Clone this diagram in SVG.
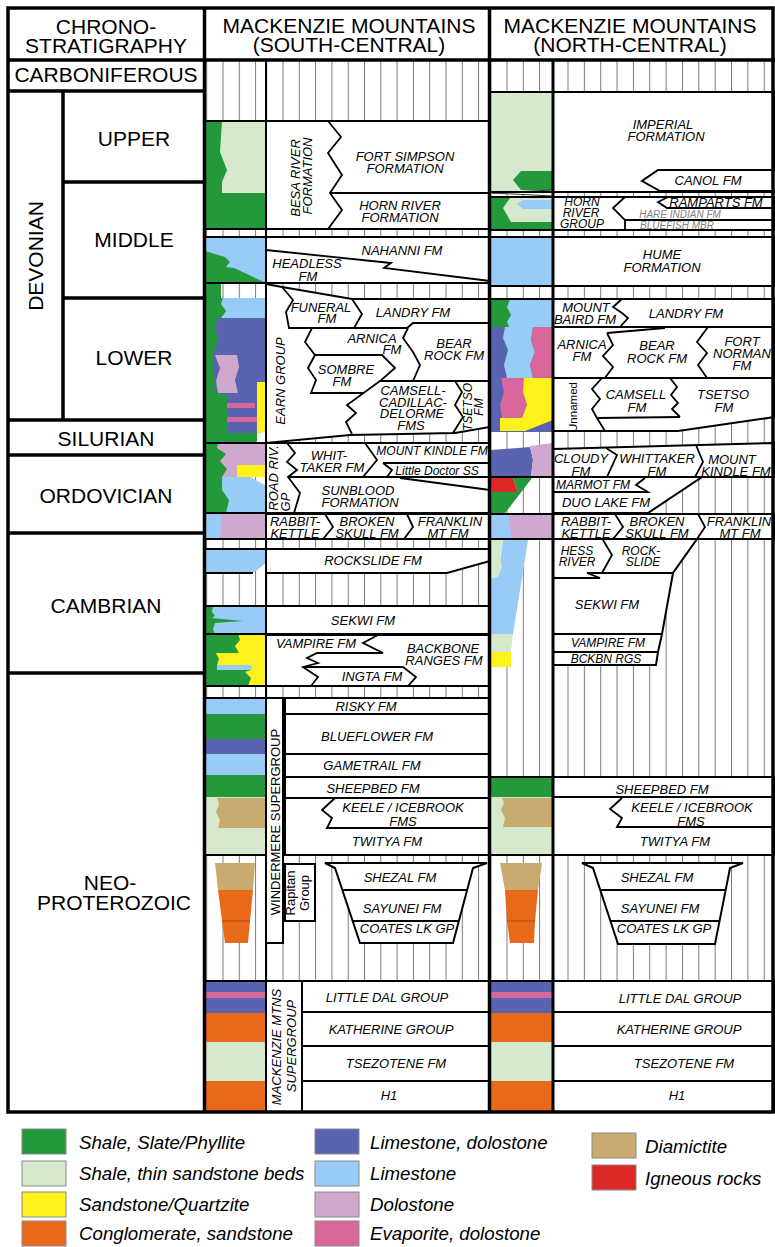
<svg xmlns="http://www.w3.org/2000/svg" width="775" height="1247" viewBox="0 0 775 1247">
<defs>
<style>
.t{font-family:"Liberation Sans",Arial,Helvetica,sans-serif;fill:#000}
.hd{font-size:21px;text-anchor:middle}
.f{font-size:13px;font-style:italic;text-anchor:middle}
.f12{font-size:12px;font-style:italic;text-anchor:middle}
.gr{font-size:10px;font-style:italic;text-anchor:middle;fill:#808080}
.rg{font-size:13px;text-anchor:middle}
.lgd{font-size:18.7px;font-style:italic}
.bx{fill:#fff;stroke:#000;stroke-width:2}
.ln{fill:none;stroke:#000;stroke-width:1.8}
.ll{fill:none;stroke:#000;stroke-width:1.8}
.fr{fill:none;stroke:#000;stroke-width:3.5}
.cG{fill:#23993b}
.cLG{fill:#d6e9cf}
.cY{fill:#fff21a}
.cO{fill:#e9691b}
.cDB{fill:#5a63af}
.cLB{fill:#98ccf6}
.cDo{fill:#cfa9cd}
.cEv{fill:#d9679c}
.cDm{fill:#c9ab70}
.cR{fill:#dd2828}
.sq{stroke:#8a8a8a;stroke-width:1}
</style>
<pattern id="hA" x="222.5" y="0" width="16.3" height="20" patternUnits="userSpaceOnUse"><rect width="16.3" height="20" fill="#fff"/><path d="M0.5 0V20" stroke="#7a7a7a" stroke-width="1"/></pattern>
<pattern id="hB" x="282.5" y="0" width="16.3" height="20" patternUnits="userSpaceOnUse"><rect width="16.3" height="20" fill="#fff"/><path d="M0.5 0V20" stroke="#7a7a7a" stroke-width="1"/></pattern>
<pattern id="hC" x="506.5" y="0" width="16.3" height="20" patternUnits="userSpaceOnUse"><rect width="16.3" height="20" fill="#fff"/><path d="M0.5 0V20" stroke="#7a7a7a" stroke-width="1"/></pattern>
<pattern id="hD" x="567.5" y="0" width="16.35" height="20" patternUnits="userSpaceOnUse"><rect width="16.35" height="20" fill="#fff"/><path d="M0.5 0V20" stroke="#7a7a7a" stroke-width="1"/></pattern>
</defs>
<rect width="775" height="1247" fill="#fff"/>

<g id="hatch-background">
<rect x="205" y="61" width="61" height="1051" fill="url(#hA)"/>
<rect x="266" y="61" width="224" height="1051" fill="url(#hB)"/>
<rect x="491" y="61" width="62" height="1051" fill="url(#hC)"/>
<rect x="553" y="61" width="222" height="1051" fill="url(#hD)"/>
</g>

<g id="lithology-south">
<rect class="cG" x="205" y="121" width="61" height="108"/>
<polygon class="cLG" points="222,121 266,121 266,193 222,193 222,182 227,170 220,152"/>
<rect class="cLB" x="205" y="237" width="61" height="46"/>
<polygon class="cG" points="205,251 225,257 230,262 226,267 234,268 266,283 205,283"/>
<rect class="cG" x="205" y="283" width="61" height="160"/>
<rect x="221" y="284" width="45" height="14" fill="url(#hA)"/>
<polygon class="cLB" points="223,298 266,298 266,318 221,318 226,311 221,304"/>
<polygon class="cDB" points="218,318 266,318 266,433 228,433 227,395 215,392 213,355 218,340 215,328"/>
<polygon class="cDo" points="215,355 237,355 239,367 235,380 238,393 218,393 216,381 220,368"/>
<polygon class="cY" points="257,382 266,382 266,431 257,434"/>
<rect class="cEv" x="227" y="403" width="28" height="5"/>
<rect class="cEv" x="227" y="417" width="30" height="5"/>
<polygon points="257,434 266,431 266,443 257,443" fill="url(#hA)"/>
<rect class="cG" x="205" y="443" width="61" height="70"/>
<polygon class="cDo" points="218,443 266,443 266,477 222,477 227,469 220,461 226,454 217,448"/>
<rect class="cY" x="237" y="465" width="29" height="12"/>
<polygon class="cLB" points="222,477 250,477 266,486 266,513 226,513 229,500 222,490"/>
<polygon points="250,477 266,477 266,486" fill="url(#hA)"/>
<rect class="cLB" x="205" y="513" width="61" height="26"/>
<polygon class="cDo" points="222,513 266,513 266,539 220,539"/>
<polygon class="cLB" points="205,549 266,549 266,563 253,573 205,573"/>
<rect class="cLB" x="205" y="606" width="61" height="28"/>
<polygon class="cG" points="205,606 213,606 212,612 215,616 212,618 243,621 215,623 213,629 215,634 205,634"/>
<rect class="cG" x="205" y="634" width="61" height="52"/>
<polygon class="cY" points="238,634 266,634 266,686 248,686 251,678 245,672 251,670 251,665 217,665 219,659 216,653 239,653 235,646 240,640"/>
<polygon class="cLB" points="217,665 251,665 252,670 217,670"/>
<rect class="cLB" x="205" y="698" width="61" height="16"/>
<rect class="cG" x="205" y="714" width="61" height="25"/>
<rect class="cDB" x="205" y="739" width="61" height="15"/>
<rect class="cLB" x="205" y="754" width="61" height="21"/>
<rect class="cG" x="205" y="775" width="61" height="22"/>
<rect class="cLG" x="205" y="797" width="61" height="58"/>
<polygon class="cDm" points="217,798 266,798 266,828 218,828 220,820 216,812 219,804"/>
<polygon class="cDm" points="215,863 255,863 253,890 218,890"/>
<polygon class="cO" points="218,890 253,890 250,921 222,921"/>
<polygon class="cO" points="222,921 250,921 248,943 225,943"/>
<line x1="222" y1="921" x2="250" y2="921" stroke="#a84a12" stroke-width="1"/>
<rect class="cDB" x="205" y="981" width="61" height="11"/>
<rect class="cEv" x="205" y="992" width="61" height="6"/>
<rect class="cDB" x="205" y="998" width="61" height="15"/>
<rect class="cO" x="205" y="1013" width="61" height="29"/>
<rect class="cLG" x="205" y="1042" width="61" height="39"/>
<rect class="cO" x="205" y="1081" width="61" height="31"/>
<path class="ll" d="M204 121H266M204 229H266M204 237H266M204 283H266M204 443H266M204 513H266M204 539H266M204 549H266M204 573H253M204 606H266M204 634H266M204 686H266M204 698H266M204 855H266M204 981H266"/>
</g>

<g id="lithology-north">
<rect class="cLG" x="491" y="92" width="62" height="100"/>
<polygon class="cG" points="513,180 521,171 553,171 553,190 521,190"/>
<polygon points="492,193 553,190 553,196" fill="#fff" stroke="#000" stroke-width="0.8"/>
<rect class="cG" x="491" y="197" width="62" height="33"/>
<polygon class="cLG" points="510,198 553,198 553,222 511,222 503,208"/>
<polygon class="cLB" points="523,200 553,200 553,209 523,209 517,204"/>
<rect class="cLB" x="491" y="237" width="62" height="49"/>
<rect class="cLB" x="491" y="299" width="62" height="28"/>
<polygon class="cG" points="491,299 510,299 507,307 511,315 507,322 509,327 491,327"/>
<rect class="cDB" x="491" y="327" width="62" height="51"/>
<polygon class="cLB" points="505,327 533,327 531,340 535,352 530,365 533,378 507,378 504,365 508,350 503,338"/>
<polygon class="cEv" points="533,327 553,327 553,378 533,378 530,365 535,352 531,340"/>
<rect class="cDB" x="491" y="378" width="62" height="54"/>
<polygon class="cEv" points="501,378 525,378 523,392 527,405 522,418 502,418 500,405 504,392"/>
<polygon class="cY" points="524,378 553,378 553,420 525,431 500,431 500,418 522,418 527,405 523,392"/>
<polygon class="cDB" points="491,450 530,447 533,460 531,477 491,477"/>
<polygon class="cDo" points="530,446 553,443 553,477 531,477 533,460"/>
<polygon class="cR" points="491,478 513,478 518,492 491,492"/>
<polygon class="cG" points="513,478 532,478 519,495 505,513 491,513 491,492 518,492"/>
<rect class="cLB" x="491" y="514" width="62" height="25"/>
<polygon class="cDo" points="508,514 553,514 553,539 512,539"/>
<polygon class="cLB" points="503,540 528,540 513,634 491,634 491,578 498,577"/>
<polygon class="cLG" points="491,540 503,540 500,557 502,567 498,577 491,578"/>
<polygon class="cLG" points="491,634 513,634 511,652 491,652"/>
<polygon class="cY" points="491,652 511,652 511,667 491,667"/>
<rect class="cG" x="491" y="777" width="62" height="20"/>
<rect class="cLG" x="491" y="797" width="62" height="58"/>
<polygon class="cDm" points="502,798 553,798 553,827 503,827 505,818 501,810 504,803"/>
<polygon class="cDm" points="500,863 542,863 538,890 505,890"/>
<polygon class="cO" points="505,890 538,890 535,921 507,921"/>
<polygon class="cO" points="507,921 535,921 534,943 510,943"/>
<line x1="507" y1="921" x2="535" y2="921" stroke="#a84a12" stroke-width="1"/>
<rect class="cDB" x="491" y="981" width="62" height="11"/>
<rect class="cEv" x="491" y="992" width="62" height="6"/>
<rect class="cDB" x="491" y="998" width="62" height="15"/>
<rect class="cO" x="491" y="1013" width="62" height="29"/>
<rect class="cLG" x="491" y="1042" width="62" height="39"/>
<rect class="cO" x="491" y="1081" width="62" height="31"/>
<path class="ll" d="M490 92H553M490 192H553M490 197H553M490 230H553M490 237H553M490 286H553M490 299H553M490 477H553M490 514H553M490 539H553M490 777H553M490 855H553M490 981H553"/>
</g>

<g id="s-upper-devonian">
<rect class="bx" x="266" y="121" width="224" height="108"/>
<polyline class="ln" points="328,121 341,137 328,153 342,175 330,193 342,210 328,229"/>
<line class="ln" x1="330" y1="193" x2="490" y2="193"/>
<text class="t f" transform="translate(300,178) rotate(-90)">BESA RIVER</text>
<text class="t f" transform="translate(312,176) rotate(-90)">FORMATION</text>
<text class="t f" x="405" y="161">FORT SIMPSON</text>
<text class="t f" x="405" y="173">FORMATION</text>
<text class="t f" x="400" y="210">HORN RIVER</text>
<text class="t f" x="400" y="222">FORMATION</text>
</g>

<g id="s-middle-devonian">
<rect class="bx" x="266" y="237" width="224" height="46"/>
<polyline class="ln" points="266,250 391,263 384,268 490,281"/>
<text class="t f" x="402" y="255">NAHANNI FM</text>
<text class="t f" x="307" y="268">HEADLESS</text>
<text class="t f" x="308" y="281">FM</text>
</g>

<g id="s-lower-devonian">
<polygon class="bx" points="266,284 282,287 352,299 490,299 490,427 455,433 350,435 266,443"/>
<polyline class="ln" points="282,287 293,300 286,312 289,328 407,328 413,323 490,323"/>
<polyline class="ln" points="352,299 362,314 354,328"/>
<polyline class="ln" points="312,328 305,342 315,355 382,355 395,368 380,381 490,381"/>
<polyline class="ln" points="315,355 308,368 316,380 311,393 364,393"/>
<polyline class="ln" points="408,328 403,338 413,352 420,365 413,381"/>
<polyline class="ln" points="380,381 347,405 356,413 346,422 352,434"/>
<polyline class="ln" points="455,381 462,392 455,405 463,417 453,433"/>
<text class="t f" transform="translate(285,381) rotate(-90)">EARN GROUP</text>
<text class="t f" x="321" y="312">FUNERAL</text>
<text class="t f" x="327" y="323">FM</text>
<text class="t f" x="413" y="317">LANDRY FM</text>
<text class="t f" x="372" y="343">ARNICA</text>
<text class="t f" x="392" y="354">FM</text>
<text class="t f" x="454" y="348">BEAR</text>
<text class="t f" x="454" y="360">ROCK FM</text>
<text class="t f" x="346" y="374">SOMBRE</text>
<text class="t f" x="342" y="386">FM</text>
<text class="t f" x="413" y="395">CAMSELL-</text>
<text class="t f" x="413" y="407">CADILLAC-</text>
<text class="t f" x="412" y="418">DELORME</text>
<text class="t f" x="411" y="430">FMS</text>
<text class="t f12" transform="translate(472,407) rotate(-90)">TSETSO</text>
<text class="t f12" transform="translate(483,407) rotate(-90)">FM</text>
</g>

<g id="s-ordovician">
<rect class="bx" x="266" y="443" width="224" height="70"/>
<polyline class="ln" points="287,443 295,453 287,462 297,470 288,477 300,493 294,513"/>
<line class="ln" x1="288" y1="477" x2="490" y2="477"/>
<polyline class="ln" points="365,443 377,460 363,477"/>
<line class="ln" x1="383" y1="463" x2="490" y2="463"/>
<polyline class="ln" points="383,463 392,470 387,477"/>
<line class="ln" x1="400" y1="478" x2="490" y2="490"/>
<text class="t f" transform="translate(278,478) rotate(-90)">ROAD RIV.</text>
<text class="t f" transform="translate(290,502) rotate(-90)">GP</text>
<text class="t f" x="329" y="460">WHIT-</text>
<text class="t f" x="332" y="472">TAKER FM</text>
<text class="t f12" x="432" y="455">MOUNT KINDLE FM</text>
<text class="t f12" x="437" y="475">Little Doctor SS</text>
<text class="t f" x="358" y="495">SUNBLOOD</text>
<text class="t f" x="360" y="507">FORMATION</text>
</g>

<g id="s-cambro-ordovician">
<rect class="bx" x="266" y="514" width="224" height="25"/>
<polyline class="ln" points="325,514 333,527 323,539"/>
<polyline class="ln" points="407,514 413,527 404,539"/>
<text class="t f" x="295" y="526">RABBIT-</text>
<text class="t f" x="295" y="538">KETTLE</text>
<text class="t f" x="367" y="526">BROKEN</text>
<text class="t f" x="367" y="538">SKULL FM</text>
<text class="t f" x="450" y="526">FRANKLIN</text>
<text class="t f" x="448" y="538">MT FM</text>
</g>

<g id="s-rockslide">
<polygon class="bx" points="266,549 490,549 490,561 447,573 266,573"/>
<text class="t f" x="373" y="565">ROCKSLIDE FM</text>
</g>

<g id="s-sekwi">
<rect class="bx" x="266" y="606" width="224" height="28"/>
<text class="t f" x="363" y="625">SEKWI FM</text>
</g>

<g id="s-vampire-backbone">
<rect class="bx" x="266" y="635" width="224" height="51"/>
<polyline class="ln" points="378,635 363,643 383,653 317,653 307,658 318,663 303,667 318,677 311,686"/>
<polyline class="ln" points="303,667 403,667 416,677 408,686"/>
<text class="t f" x="316" y="648">VAMPIRE FM</text>
<text class="t f" x="443" y="653">BACKBONE</text>
<text class="t f" x="444" y="665">RANGES FM</text>
<text class="t f" x="372" y="681">INGTA FM</text>
</g>

<g id="s-windermere">
<rect class="bx" x="266" y="698" width="17" height="245"/>
<text class="t rg" transform="translate(280,822) rotate(-90)">WINDERMERE SUPERGROUP</text>
<rect class="bx" x="285" y="698" width="205" height="16"/>
<rect class="bx" x="285" y="714" width="205" height="40"/>
<rect class="bx" x="285" y="754" width="205" height="23"/>
<rect class="bx" x="285" y="777" width="205" height="21"/>
<rect class="bx" x="285" y="798" width="205" height="57"/>
<polyline class="ln" points="335,798 322,810 332,818 327,828 490,828"/>
<text class="t f" x="366" y="711">RISKY FM</text>
<text class="t f" x="377" y="741">BLUEFLOWER FM</text>
<text class="t f" x="372" y="770">GAMETRAIL FM</text>
<text class="t f" x="373" y="793">SHEEPBED FM</text>
<text class="t f" x="403" y="812">KEELE / ICEBROOK</text>
<text class="t f" x="403" y="826">FMS</text>
<text class="t f" x="387" y="846">TWITYA FM</text>
<rect class="bx" x="285" y="864" width="30" height="57"/>
<text class="t rg" transform="translate(295,893) rotate(-90)">Rapitan</text>
<text class="t rg" transform="translate(309,893) rotate(-90)">Group</text>
<path class="bx" d="M325 863H487L473 868L453 943H360L335 868Z"/>
<line class="ln" x1="342" y1="890" x2="467" y2="890"/>
<line class="ln" x1="353" y1="921" x2="459" y2="921"/>
<text class="t f" x="400" y="882">SHEZAL FM</text>
<text class="t f" x="402" y="913">SAYUNEI FM</text>
<text class="t f" x="407" y="933">COATES LK GP</text>
</g>

<g id="s-mackenzie-supergroup">
<rect class="bx" x="266" y="981" width="36" height="131"/>
<text class="t f" transform="translate(281,1047) rotate(-90)">MACKENZIE MTNS</text>
<text class="t f" transform="translate(296,1046) rotate(-90)">SUPERGROUP</text>
<rect class="bx" x="302" y="981" width="188" height="31"/>
<rect class="bx" x="302" y="1012" width="188" height="34"/>
<rect class="bx" x="302" y="1046" width="188" height="35"/>
<rect class="bx" x="302" y="1081" width="188" height="31"/>
<text class="t f" x="387" y="1002">LITTLE DAL GROUP</text>
<text class="t f" x="391" y="1034">KATHERINE GROUP</text>
<text class="t f" x="396" y="1068">TSEZOTENE FM</text>
<text class="t f" x="389" y="1100">H1</text>
</g>

<g id="n-imperial">
<rect class="bx" x="553" y="92" width="222" height="100"/>
<polygon class="bx" points="776,170 658,170 642,181 660,191 776,191"/>
<text class="t f" x="663" y="129">IMPERIAL</text>
<text class="t f" x="666" y="141">FORMATION</text>
<text class="t f" x="708" y="185">CANOL FM</text>
</g>

<g id="n-horn-river">
<rect class="bx" x="553" y="197" width="222" height="33"/>
<polyline class="ln" points="625,197 613,208 625,220 625,230"/>
<polyline class="ln" points="668,197 658,202 667,208 775,208"/>
<line class="ln" x1="625" y1="220" x2="775" y2="220" stroke-width="1.3"/>
<text class="t f12" x="582" y="206">HORN</text>
<text class="t f12" x="581" y="217">RIVER</text>
<text class="t f12" x="582" y="228">GROUP</text>
<text class="t f" x="716" y="207">RAMPARTS FM</text>
<text class="t gr" x="680" y="218">HARE INDIAN FM</text>
<text class="t gr" x="677" y="229">BLUEFISH MBR</text>
</g>

<g id="n-hume">
<rect class="bx" x="553" y="237" width="222" height="49"/>
<text class="t f" x="662" y="259">HUME</text>
<text class="t f" x="662" y="272">FORMATION</text>
</g>

<g id="n-landry">
<rect class="bx" x="553" y="299" width="222" height="28"/>
<polyline class="ln" points="622,299 613,307 622,313 628,318 620,327"/>
<text class="t f" x="586" y="312">MOUNT</text>
<text class="t f" x="585" y="324">BAIRD FM</text>
<text class="t f" x="686" y="318">LANDRY FM</text>
</g>

<g id="n-bear-rock">
<rect class="bx" x="553" y="327" width="222" height="51"/>
<polyline class="ln" points="607,333 613,345 603,356 613,367 605,378"/>
<line class="ln" x1="607" y1="333" x2="665" y2="328"/>
<polyline class="ln" points="708,327 697,342 707,353 698,365 707,378"/>
<text class="t f" x="582" y="349">ARNICA</text>
<text class="t f" x="582" y="361">FM</text>
<text class="t f" x="657" y="350">BEAR</text>
<text class="t f" x="657" y="363">ROCK FM</text>
<text class="t f" x="742" y="346">FORT</text>
<text class="t f" x="742" y="358">NORMAN</text>
<text class="t f" x="742" y="370">FM</text>
</g>

<g id="n-camsell">
<polygon class="bx" points="553,378 775,378 775,417 678,431 553,431"/>
<polyline class="ln" points="602,378 592,389 600,399 592,409 597,418 605,431"/>
<line class="ln" x1="597" y1="418" x2="680" y2="417"/>
<polyline class="ln" points="670,378 677,387 671,395 678,403 672,409 680,417"/>
<text class="t" font-size="11.5" text-anchor="middle" transform="translate(577,407) rotate(-90)">Unnamed</text>
<text class="t f" x="636" y="399">CAMSELL</text>
<text class="t f" x="637" y="412">FM</text>
<text class="t f" x="723" y="399">TSETSO</text>
<text class="t f" x="724" y="412">FM</text>
</g>

<g id="n-whittaker">
<polygon class="bx" points="553,449 775,443 775,477 553,477"/>
<polyline class="ln" points="606,448 617,455 607,477"/>
<polyline class="ln" points="696,445 703,462 695,477"/>
<text class="t f" x="581" y="463">CLOUDY</text>
<text class="t f" x="581" y="476">FM</text>
<text class="t f" x="657" y="463">WHITTAKER</text>
<text class="t f" x="657" y="476">FM</text>
<text class="t f" x="732" y="464">MOUNT</text>
<text class="t f" x="736" y="476">KINDLE FM</text>
</g>

<g id="n-duo-lake">
<polygon class="bx" points="553,477 702,477 648,513 553,513"/>
<polyline class="ln" points="645,478 636,485 648,492 553,492"/>
<text class="t f12" x="593" y="489">MARMOT FM</text>
<text class="t f" x="606" y="507">DUO LAKE FM</text>
</g>

<g id="n-cambro-ordovician">
<rect class="bx" x="553" y="514" width="222" height="25"/>
<polyline class="ln" points="615,514 623,527 613,539"/>
<polyline class="ln" points="698,514 705,527 697,539"/>
<text class="t f" x="586" y="526">RABBIT-</text>
<text class="t f" x="586" y="538">KETTLE</text>
<text class="t f" x="657" y="526">BROKEN</text>
<text class="t f" x="657" y="538">SKULL FM</text>
<text class="t f" x="739" y="526">FRANKLIN</text>
<text class="t f" x="740" y="538">MT FM</text>
</g>

<g id="n-cambrian">
<polygon class="bx" points="553,539 697,539 673,573 662,634 658,652 656,665 553,665"/>
<polyline class="ln" points="603,540 612,555 602,573"/>
<polyline class="ln" points="553,578 600,578 587,573 673,573"/>
<line class="ln" x1="553" y1="634" x2="662" y2="634"/>
<line class="ln" x1="553" y1="652" x2="658" y2="652"/>
<text class="t f12" x="577" y="555">HESS</text>
<text class="t f12" x="577" y="566">RIVER</text>
<text class="t f12" x="641" y="555">ROCK-</text>
<text class="t f12" x="643" y="566">SLIDE</text>
<text class="t f" x="607" y="609">SEKWI FM</text>
<text class="t f12" x="608" y="647">VAMPIRE FM</text>
<text class="t f12" x="606" y="663">BCKBN RGS</text>
</g>

<g id="n-windermere">
<rect class="bx" x="553" y="777" width="222" height="20"/>
<rect class="bx" x="553" y="797" width="222" height="58"/>
<polyline class="ln" points="622,798 610,809 622,818 617,827 775,827"/>
<text class="t f" x="662" y="794">SHEEPBED FM</text>
<text class="t f" x="692" y="812">KEELE / ICEBROOK</text>
<text class="t f" x="691" y="826">FMS</text>
<text class="t f" x="675" y="846">TWITYA FM</text>
<path class="bx" d="M582 863H743L730 868L715 944H618L593 868Z"/>
<line class="ln" x1="600" y1="890" x2="726" y2="890"/>
<line class="ln" x1="610" y1="921" x2="720" y2="921"/>
<text class="t f" x="657" y="882">SHEZAL FM</text>
<text class="t f" x="660" y="913">SAYUNEI FM</text>
<text class="t f" x="664" y="933">COATES LK GP</text>
</g>

<g id="n-mackenzie-supergroup">
<rect class="bx" x="553" y="981" width="222" height="31"/>
<rect class="bx" x="553" y="1012" width="222" height="34"/>
<rect class="bx" x="553" y="1046" width="222" height="35"/>
<rect class="bx" x="553" y="1081" width="222" height="31"/>
<text class="t f" x="680" y="1003">LITTLE DAL GROUP</text>
<text class="t f" x="679" y="1034">KATHERINE GROUP</text>
<text class="t f" x="684" y="1068">TSEZOTENE FM</text>
<text class="t f" x="677" y="1100">H1</text>
</g>

<g id="chronostratigraphy">
<path class="fr" d="M8 91H204M63 91V420M63 182H204M63 298H204M8 420H204M8 455H204M8 533H204M8 673H204"/>
<text class="t hd" x="106" y="34">CHRONO-</text>
<text class="t hd" x="106" y="53">STRATIGRAPHY</text>
<text class="t hd" x="106" y="82">CARBONIFEROUS</text>
<text class="t hd" font-size="20" transform="translate(43,256) rotate(-90)">DEVONIAN</text>
<text class="t hd" x="134" y="146">UPPER</text>
<text class="t hd" x="134" y="247">MIDDLE</text>
<text class="t hd" x="134" y="365">LOWER</text>
<text class="t hd" x="106" y="446">SILURIAN</text>
<text class="t hd" x="106" y="503">ORDOVICIAN</text>
<text class="t hd" x="106" y="613">CAMBRIAN</text>
<text class="t hd" font-size="20" x="110" y="890">NEO-</text>
<text class="t hd" font-size="20" x="114" y="910">PROTEROZOIC</text>
</g>

<g id="headers">
<text class="t hd" x="349" y="33">MACKENZIE MOUNTAINS</text>
<text class="t hd" x="349" y="52">(SOUTH-CENTRAL)</text>
<text class="t hd" x="630" y="33">MACKENZIE MOUNTAINS</text>
<text class="t hd" x="630" y="52">(NORTH-CENTRAL)</text>
</g>

<g id="frame">
<rect class="fr" x="8" y="8" width="765" height="1104"/>
<path class="fr" d="M8 60H775M204.5 8V1112M489.5 8V1112"/>
<path d="M266 60V1112" stroke="#000" stroke-width="2"/>
<path d="M553 60V1112" stroke="#000" stroke-width="3"/>
</g>

<g id="legend">
<rect class="cG sq" x="22" y="1129" width="44" height="25"/>
<text class="t lgd" x="79" y="1149">Shale, Slate/Phyllite</text>
<rect class="cLG sq" x="22" y="1161" width="44" height="25"/>
<text class="t lgd" x="79" y="1180">Shale, thin sandstone beds</text>
<rect class="cY sq" x="22" y="1192" width="44" height="25"/>
<text class="t lgd" x="79" y="1211">Sandstone/Quartzite</text>
<rect class="cO sq" x="22" y="1221" width="44" height="25"/>
<text class="t lgd" x="79" y="1240">Conglomerate, sandstone</text>
<rect class="cDB sq" x="315" y="1129" width="44" height="25"/>
<text class="t lgd" x="370" y="1149">Limestone, dolostone</text>
<rect class="cLB sq" x="315" y="1161" width="44" height="25"/>
<text class="t lgd" x="370" y="1180">Limestone</text>
<rect class="cDo sq" x="315" y="1192" width="44" height="25"/>
<text class="t lgd" x="370" y="1211">Dolostone</text>
<rect class="cEv sq" x="315" y="1221" width="44" height="25"/>
<text class="t lgd" x="370" y="1240">Evaporite, dolostone</text>
<rect class="cDm sq" x="592" y="1133" width="44" height="25"/>
<text class="t lgd" x="645" y="1153">Diamictite</text>
<rect class="cR sq" x="592" y="1165" width="44" height="25"/>
<text class="t lgd" x="645" y="1185">Igneous rocks</text>
</g>
</svg>
